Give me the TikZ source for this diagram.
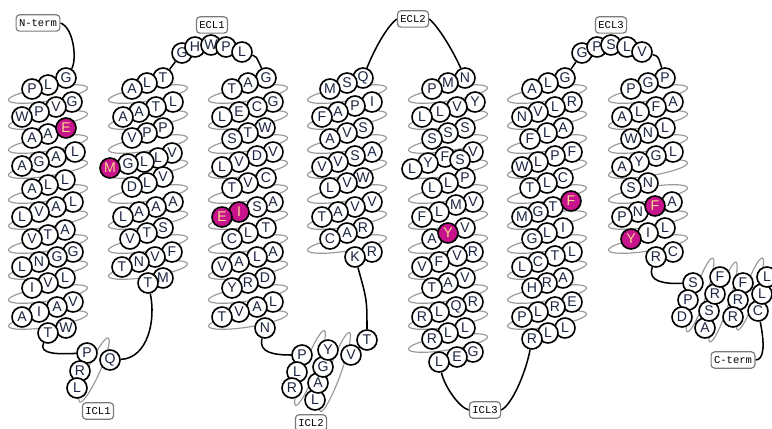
\documentclass[tikz,border=0pt]{standalone}
\usepackage{fontspec}
\setmainfont{Liberation Sans}
\newfontfamily\tagfont{Liberation Mono}
\usetikzlibrary{backgrounds}
\definecolor{SnakeInk}{HTML}{1B2440}
\definecolor{SnakeHot}{HTML}{C8148C}
\definecolor{SnakeHotText}{HTML}{F7D98B}
\definecolor{SnakeCoil}{HTML}{9A9A9A}
\definecolor{SnakeEdge}{HTML}{7A7A7A}
\tikzset{
  res/.style={circle, draw=black, line width=1.4pt, fill=white, minimum size=0.6cm, inner sep=0pt, text=SnakeInk, font=\fontsize{12}{12}\selectfont},
  hotres/.style={res, fill=SnakeHot, text=SnakeHotText},
  looptag/.style={draw=SnakeEdge, line width=1pt, rounded corners=3pt, fill=white, inner xsep=2.5pt, minimum height=0.49cm, font=\tagfont\fontsize{9}{9}\selectfont, text=black},
  loopline/.style={draw=black, line width=1.3pt},
  coil/.style={draw=SnakeCoil, line width=1pt}
}
\newcommand{\helixring}[2]{\draw[coil, rotate around={9:(#1,#2)}] (#1,#2) ellipse [x radius=40, y radius=7];}

\begin{document}
\begin{tikzpicture}[x=0.03cm, y=-0.03cm]
\useasboundingbox (0,0) rectangle (772,429);
% loop tags
\node[looptag] (nterm) at (38,23) {N-term};
\node[looptag] (ecl1) at (212,25) {ECL1};
\node[looptag] (ecl2) at (413,19) {ECL2};
\node[looptag] (ecl3) at (611,25) {ECL3};
\node[looptag] (icl1) at (98,411) {ICL1};
\node[looptag] (icl2) at (311,423) {ICL2};
\node[looptag] (icl3) at (485,410) {ICL3};
\node[looptag] (cterm) at (733,360) {C-term};
% TM1
\foreach \x/\y/\a [count=\i] in {66/78/G, 48/85/L, 32/89/P,
  72/102/G, 56/107/V, 39/112/P, 22/117/W,
  48/134/A, 32/138/A,
  75/152/L, 56/157/A, 39/162/G, 22/166/A,
  65/180/L, 48/185/L, 32/189/A,
  73/202/L, 56/207/A, 39/212/V, 22/217/L,
  65/230/A, 48/235/T, 32/239/V,
  73/252/G, 57/257/G, 39/262/N, 22/267/L,
  65/278/L, 48/283/V, 32/288/I,
  73/302/V, 57/307/A, 39/312/I, 22/317/A,
  66/328/W, 48/333/T}
  \node[res] (tm1-\i) at (\x,\y) {\a};
\node[hotres] (e-tm1) at (66,128) {E};
% ICL1
\foreach \x/\y/\a [count=\i] in {87/353/P, 80/371/R, 77/388/L, 110/360/Q}
  \node[res] (icl1-\i) at (\x,\y) {\a};
% TM2
\foreach \x/\y/\a [count=\i] in {163/78/T, 147/83/L, 132/89/A,
  173/102/L, 156/107/T, 139/112/A, 123/117/A,
  163/128/P, 147/133/P, 132/138/V,
  172/153/V, 158/158/L, 144/162/L, 128/164/G,
  163/177/V, 147/183/L, 132/187/D,
  173/202/A, 156/207/A, 139/212/A, 123/217/L,
  163/228/S, 147/233/T, 130/239/V,
  172/252/F, 155/257/V, 139/262/N, 122/267/T,
  163/278/M, 148/283/T}
  \node[res] (tm2-\i) at (\x,\y) {\a};
\node[hotres] (m-tm2) at (110,168) {M};
% ECL1
\foreach \x/\y/\a [count=\i] in {182/53/G, 195/47/H, 211/45/W, 226/47/P, 242/52/L}
  \node[res] (ecl1-\i) at (\x,\y) {\a};
% TM3
\foreach \x/\y/\a [count=\i] in {266/78/G, 248/83/A, 232/89/T,
  273/102/G, 257/107/C, 239/112/E, 222/117/L,
  265/128/W, 248/133/T, 232/139/S,
  273/152/V, 257/156/D, 239/162/V, 222/167/L,
  266/178/C, 248/183/V, 232/188/T,
  273/202/A, 257/207/S,
  266/228/T, 248/233/L, 232/239/C,
  273/252/A, 257/257/L, 239/262/A, 222/267/V,
  265/278/D, 248/283/R, 232/288/Y,
  273/302/L, 257/307/A, 239/312/V, 222/317/T,
  265/328/N}
  \node[res] (tm3-\i) at (\x,\y) {\a};
\node[hotres] (i-tm3) at (239,212) {I};
\node[hotres] (e-tm3) at (222,217) {E};
% ICL2
\foreach \x/\y/\a [count=\i] in {302/355/P, 297/372/L, 292/388/R, 315/400/L, 318/383/A,
  323/367/G, 328/350/Y, 351/355/V, 367/340/T}
  \node[res] (icl2-\i) at (\x,\y) {\a};
% TM4
\foreach \x/\y/\a [count=\i] in {363/78/Q, 347/83/S, 330/89/M,
  372/102/I, 355/106/P, 338/112/A, 322/117/F,
  363/128/S, 347/133/V, 330/139/A,
  372/152/A, 355/156/S, 338/162/V, 322/167/V,
  363/178/W, 347/183/V, 330/188/L,
  372/202/V, 355/207/V, 338/212/A, 322/217/T,
  363/228/R, 347/233/A, 330/239/C,
  372/252/R, 355/257/K}
  \node[res] (tm4-\i) at (\x,\y) {\a};
% TM5
\foreach \x/\y/\a [count=\i] in {465/78/N, 448/83/M, 432/89/P,
  475/102/Y, 457/107/V, 440/112/L, 422/117/L,
  465/128/S, 448/133/S, 432/139/S,
  473/152/V, 445/157/F, 460/160/S, 428/163/Y, 412/169/L,
  465/178/P, 448/183/L, 432/188/L,
  473/202/V, 456/205/M, 439/212/L, 422/217/F,
  465/228/V, 432/239/A,
  473/252/R, 457/256/V, 439/262/F, 422/267/V,
  465/278/V, 448/283/A, 432/288/T,
  473/302/R, 456/307/Q, 439/312/L, 422/317/R,
  465/328/L, 448/333/L, 432/339/R,
  473/352/G, 457/357/E, 439/362/L}
  \node[res] (tm5-\i) at (\x,\y) {\a};
\node[hotres] (y-tm5) at (448,233) {Y};
% TM6
\foreach \x/\y/\a [count=\i] in {565/78/G, 548/83/L, 532/89/A,
  572/102/R, 555/107/L, 538/112/V, 522/117/N,
  563/128/A, 547/133/L, 530/139/F,
  572/152/F, 555/156/P, 538/162/L, 522/167/W,
  563/178/C, 547/183/L, 530/188/T,
  553/207/T, 538/212/G, 522/217/M,
  563/228/I, 547/233/L, 532/239/G,
  572/252/L, 555/256/T, 538/262/C, 522/267/L,
  563/278/A, 547/283/R, 532/288/H,
  572/302/E, 555/307/R, 538/312/L, 522/317/P,
  565/328/L, 548/333/L, 532/339/R}
  \node[res] (tm6-\i) at (\x,\y) {\a};
\node[hotres] (f-tm6) at (571,201) {F};
% ECL3
\foreach \x/\y/\a [count=\i] in {582/53/G, 597/47/P, 611/45/S, 627/47/L, 642/52/V}
  \node[res] (ecl3-\i) at (\x,\y) {\a};
% TM7
\foreach \x/\y/\a [count=\i] in {665/78/P, 648/83/G, 631/89/P,
  673/102/A, 656/107/F, 639/112/L, 622/117/A,
  665/128/L, 648/133/N, 631/139/W,
  673/152/L, 656/156/G, 639/162/Y, 622/167/A,
  648/183/N, 631/188/S,
  672/202/A, 638/212/N, 622/217/P,
  665/228/L, 648/233/I,
  673/252/C, 656/257/R}
  \node[res] (tm7-\i) at (\x,\y) {\a};
\node[hotres] (f-tm7) at (655,206) {F};
\node[hotres] (y-tm7) at (631,239) {Y};
% C-terminal tail
\foreach \x/\y/\a [count=\i] in {693/283/S, 688/300/P, 682/317/D, 705/328/A, 709/311/S,
  715/294/R, 720/277/F, 743/283/F, 738/300/R, 733/317/R, 758/311/C, 762/294/L, 767/277/L}
  \node[res] (ct-\i) at (\x,\y) {\a};

\begin{scope}[on background layer]
% helix turns
\foreach \y in {94,120,144,169,194,220,244,270,294,320} {\helixring{48}{\y}}
\foreach \y in {94,120,144,169,194,220,244,270} {\helixring{148}{\y}}
\foreach \y in {94,120,144,169,194,220,244,270,294,320} {\helixring{248}{\y}}
\foreach \y in {94,120,144,169,194,220,244} {\helixring{347}{\y}}
\foreach \y in {94,120,144,169,194,220,244,270,294,320,343} {\helixring{448}{\y}}
\foreach \y in {94,120,144,169,194,220,244,270,294,320} {\helixring{547}{\y}}
\foreach \y in {94,120,144,169,194,220,244} {\helixring{648}{\y}}
\draw[coil, rotate around={66:(94,370)}] (94,370) ellipse [x radius=35, y radius=6];
\draw[coil, rotate around={69:(310,368)}] (310,368) ellipse [x radius=40, y radius=6];
\draw[coil, rotate around={70:(335,372)}] (335,372) ellipse [x radius=42, y radius=6];
\draw[coil, rotate around={71:(700,295)}] (700,295) ellipse [x radius=39, y radius=6];
\draw[coil, rotate around={72:(723,302)}] (723,302) ellipse [x radius=42, y radius=6];
\draw[coil, rotate around={71:(750,294)}] (750,294) ellipse [x radius=38, y radius=6];
% loops
\draw[loopline] (nterm.east) .. controls (74,28) and (77,60) .. (tm1-1);
\draw[loopline] (tm1-36) .. controls (38,355) and (60,354) .. (icl1-1);
\draw[loopline] (icl1-4) .. controls (148,358) and (156,320) .. (tm2-30);
\draw[loopline] (tm2-1) -- (ecl1-1);
\draw[loopline] (ecl1-5) .. controls (256,56) .. (tm3-1);
\draw[loopline] (tm3-34) .. controls (258,353) and (275,355) .. (icl2-1);
\draw[loopline] (icl2-9) .. controls (367,300) .. (tm4-26);
\draw[loopline] (tm4-1) .. controls (372,55) and (385,28) .. (ecl2.west);
\draw[loopline] (ecl2.east) .. controls (440,28) and (455,55) .. (tm5-1);
\draw[loopline] (tm5-41) .. controls (445,388) and (460,408) .. (icl3.west);
\draw[loopline] (icl3.east) .. controls (512,405) and (526,372) .. (tm6-37);
\draw[loopline] (tm6-1) -- (ecl3-1);
\draw[loopline] (ecl3-5) .. controls (658,56) .. (tm7-1);
\draw[loopline] (tm7-23) .. controls (647,282) and (665,284) .. (ct-1);
\draw[loopline] (ct-11) .. controls (765,345) and (764,360) .. (cterm.east);
\end{scope}
\end{tikzpicture}
\end{document}
